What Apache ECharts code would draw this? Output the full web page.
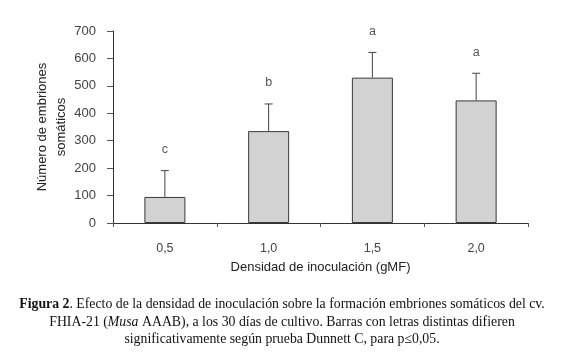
<!DOCTYPE html>
<html>
<head>
<meta charset="utf-8">
<script src="https://cdn.jsdelivr.net/npm/echarts@6/dist/echarts.min.js"></script>
<style>
  html, body { margin: 0; padding: 0; background: #fff; }
  #chart { width: 578px; height: 363px; }
</style>
</head>
<body>
<div id="chart"></div>
<script>
// values
var categories = ['0,5', '1,0', '1,5', '2,0'];
var means = [95, 335, 530, 447];
var errUp = [96, 99, 92, 99];
var letters = ['c', 'b', 'a', 'a'];
var yTicks = [0, 100, 200, 300, 400, 500, 600, 700];

var myChart = echarts.init(document.getElementById('chart'));

var errData = means.map(function (m, i) { return [i, m, m + errUp[i], letters[i]]; });

myChart.setOption({
  backgroundColor: '#fff',
  animation: false,
  grid: { left: 113, right: 50, top: 31, bottom: 140 },
  xAxis: {
    type: 'category',
    data: categories,
    name: 'Densidad de inoculación (gMF)',
    nameLocation: 'middle',
    nameGap: 38,
    nameTextStyle: { fontFamily: 'Liberation Sans', fontSize: 13, color: '#222' },
    axisLine: { lineStyle: { color: '#333', width: 1 } },
    axisTick: { show: true, length: 4, lineStyle: { color: '#555' } },
    axisLabel: { fontFamily: 'Liberation Sans', fontSize: 12.5, color: '#444', margin: 19 }
  },
  yAxis: {
    type: 'value',
    min: yTicks[0],
    max: yTicks[yTicks.length - 1],
    interval: 100,
    name: 'Número de embriones\nsomáticos',
    nameLocation: 'middle',
    nameGap: 42,
    nameMoveOverlap: false,
    nameRotate: 90,
    nameTextStyle: { fontFamily: 'Liberation Sans', fontSize: 13, color: '#222', lineHeight: 19 },
    axisLine: { show: true, lineStyle: { color: '#333', width: 1 } },
    axisTick: { show: true, length: 6, lineStyle: { color: '#555' } },
    splitLine: { show: false },
    axisLabel: { fontFamily: 'Liberation Sans', fontSize: 13, color: '#444', margin: 17 }
  },
  series: [
    {
      type: 'bar',
      data: means,
      barWidth: 41,
      itemStyle: { color: '#d2d2d2', borderColor: '#3a3a3a', borderWidth: 1 }
    },
    {
      type: 'custom',
      data: errData,
      z: 5,
      renderItem: function (params, api) {
        var i = api.value(0);
        var base = api.coord([i, api.value(1)]);
        var top = api.coord([i, api.value(2)]);
        return {
          type: 'group',
          children: [
            { type: 'line', shape: { x1: base[0], y1: base[1], x2: top[0], y2: top[1] },
              style: { stroke: '#444', lineWidth: 1 } },
            { type: 'line', shape: { x1: top[0] - 4, y1: top[1], x2: top[0] + 4, y2: top[1] },
              style: { stroke: '#444', lineWidth: 1 } },
            { type: 'text', x: top[0], y: top[1] - 21,
              style: { text: letters[params.dataIndex], fill: '#555', fontSize: 12.5,
                       fontFamily: 'Liberation Sans', align: 'center', verticalAlign: 'middle' } }
          ]
        };
      }
    }
  ],
  graphic: [
    {
      type: 'text',
      x: 282,
      y: 296,
      style: {
        text: '{b|Figura 2}. Efecto de la densidad de inoculación sobre la formación embriones somáticos del cv.\n' +
              'FHIA-21 ({i|Musa} AAAB), a los 30 días de cultivo. Barras con letras distintas difieren\n' +
              'significativamente según prueba Dunnett C, para p≤0,05.',
        align: 'center',
        verticalAlign: 'top',
        fontFamily: 'Liberation Serif',
        fontSize: 13.8,
        lineHeight: 17.5,
        fill: '#111',
        rich: {
          b: { fontWeight: 'bold', fontFamily: 'Liberation Serif', fontSize: 13.8, lineHeight: 17.5 },
          i: { fontStyle: 'italic', fontFamily: 'Liberation Serif', fontSize: 13.8, lineHeight: 17.5 }
        }
      }
    }
  ]
});
</script>
</body>
</html>
